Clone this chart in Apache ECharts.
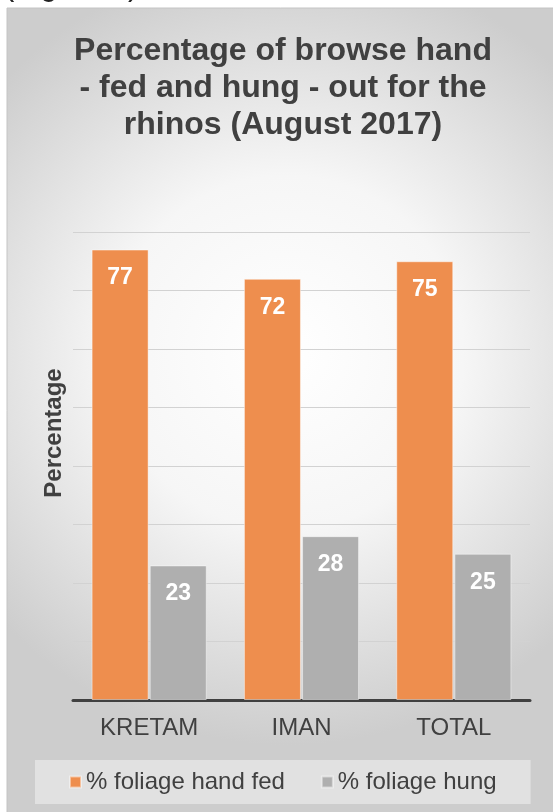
<!DOCTYPE html>
<html>
<head>
<meta charset="utf-8">
<script src="https://cdn.jsdelivr.net/npm/echarts@6/dist/echarts.min.js"></script>
<style>
  html, body { margin: 0; padding: 0; background: #fff; }
  #barchart { width: 553px; height: 812px; }
</style>
</head>
<body>
<div id="barchart"></div>
<script>
var categories = ['KRETAM', 'IMAN', 'TOTAL'];
var handFed = [77, 72, 75];
var hung = [23, 28, 25];
var seriesNames = ['% foliage hand fed', '% foliage hung'];

var chart = document.getElementById('barchart');
var myChart = echarts.init(chart);

var font = 'Liberation Sans, Arial, sans-serif';
var dark = '#404040';

var option = {
    backgroundColor: '#ffffff',
    textStyle: { fontFamily: font },
    graphic: [
        {
            type: 'rect',
            z: -10,
            shape: { x: 7, y: 8, width: 560, height: 820 },
            style: {
                fill: new echarts.graphic.RadialGradient(0.5, 0.42, 0.7, [
                    { offset: 0, color: '#ffffff' },
                    { offset: 0.45, color: '#f6f6f6' },
                    { offset: 1, color: '#cdcdcd' }
                ]),
                stroke: '#c4c4c4',
                lineWidth: 1
            }
        },
        {
            // caption above the chart, cut off by the page edge
            type: 'text',
            x: 4,
            y: 2,
            style: { text: '(Figure 6)', font: '31px ' + font, fill: '#222', verticalAlign: 'bottom' }
        }
    ],
    title: {
        text: 'Percentage of browse hand\n- fed and hung - out for the\nrhinos (August 2017)',
        left: 278,
        textAlign: 'center',
        top: 28,
        textStyle: {
            fontSize: 32,
            fontWeight: 'bold',
            color: dark,
            lineHeight: 37,
            fontFamily: font
        }
    },
    legend: {
        left: 35,
        bottom: 8,
        padding: [10, 34],
        backgroundColor: 'rgba(255,255,255,0.4)',
        itemWidth: 11,
        itemHeight: 11,
        itemGap: 36,
        icon: 'rect',
        textStyle: { fontSize: 24, color: dark, fontFamily: font },
        data: seriesNames
    },
    grid: {
        left: 73,
        right: 23,
        top: 232,
        bottom: 112
    },
    xAxis: {
        type: 'category',
        data: categories,
        axisLine: { lineStyle: { color: dark, width: 3 } },
        axisTick: { show: false },
        axisLabel: { fontSize: 24, color: dark, margin: 16, fontFamily: font }
    },
    yAxis: {
        type: 'value',
        min: 0,
        max: 80,
        interval: 10,
        name: 'Percentage',
        nameLocation: 'middle',
        nameRotate: 90,
        nameGap: 7,
        nameTextStyle: {
            fontSize: 24,
            fontWeight: 'bold',
            color: dark,
            fontFamily: font,
            padding: [0, 0, 0, 66]
        },
        axisLabel: { show: false },
        axisLine: { show: false },
        axisTick: { show: false },
        splitLine: { lineStyle: { color: '#d2d2d2', width: 1 } }
    },
    series: [
        {
            name: seriesNames[0],
            type: 'bar',
            data: handFed,
            barWidth: 57,
            barGap: '2%',
            itemStyle: { color: '#ee8e4e', borderColor: 'rgba(255,255,255,0.45)', borderWidth: 1 },
            label: {
                show: true,
                position: 'insideTop',
                distance: 17,
                color: '#ffffff',
                fontSize: 23,
                fontWeight: 'bold',
                fontFamily: font
            }
        },
        {
            name: seriesNames[1],
            type: 'bar',
            data: hung,
            barWidth: 57,
            itemStyle: { color: '#afafaf', borderColor: 'rgba(255,255,255,0.45)', borderWidth: 1 },
            label: {
                show: true,
                position: 'insideTop',
                distance: 17,
                color: '#ffffff',
                fontSize: 23,
                fontWeight: 'bold',
                fontFamily: font
            }
        }
    ]
};

myChart.setOption(option);
</script>
</body>
</html>
